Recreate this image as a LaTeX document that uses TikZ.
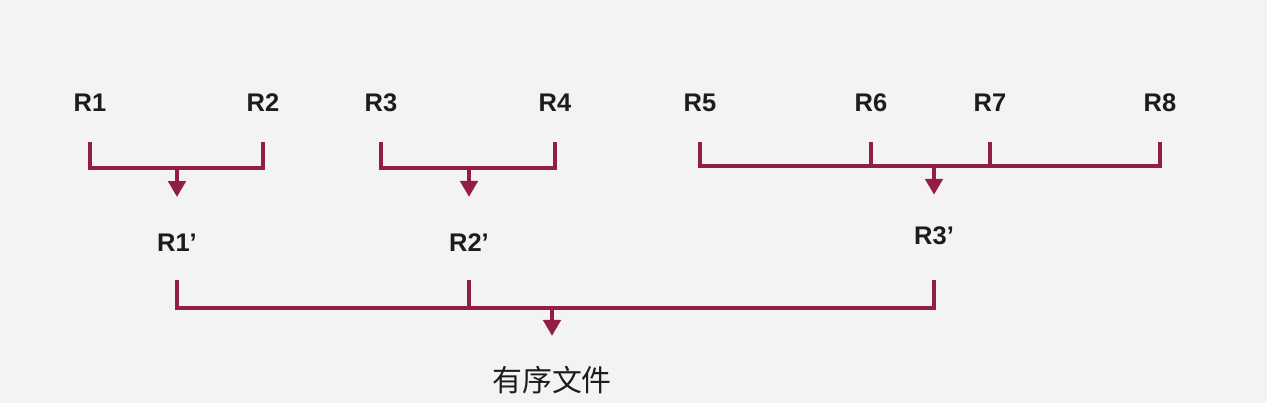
\documentclass[tikz,border=0pt]{standalone}
\usepackage{fontspec}
\setmainfont{Liberation Sans}
\newfontfamily\cjkfont{Noto Sans CJK SC}
\usetikzlibrary{arrows.meta}
\definecolor{bracket}{RGB}{146, 30, 72}
\definecolor{canvas}{RGB}{243, 243, 243}
\definecolor{ink}{RGB}{28, 28, 28}

\begin{document}
\begin{tikzpicture}[
    x=0.02cm, y=-0.02cm,
    run/.style={inner sep=0pt, text=ink, font=\fontsize{14.5}{16}\selectfont\bfseries},
    result/.style={inner sep=0pt, text=ink, font=\cjkfont\fontsize{17}{19}\selectfont},
    link/.style={draw=bracket, line width=1.8pt},
    arrow/.style={link, -{Triangle[width=10pt,length=9pt]}}
]
\fill[canvas] (0,0) rectangle (1267,403);
\useasboundingbox (0,0) rectangle (1267,403);

% Runs
\node[run] (r1) at (90,103) {R1};
\node[run] (r2) at (263,103) {R2};
\node[run] (r3) at (381,103) {R3};
\node[run] (r4) at (555,103) {R4};
\node[run] (r5) at (700,103) {R5};
\node[run] (r6) at (871,103) {R6};
\node[run] (r7) at (990,103) {R7};
\node[run] (r8) at (1160,103) {R8};

% First merge
\coordinate (j1) at (177,168);
\coordinate (j2) at (469,168);
\coordinate (j3) at (934,166);
\node[run] (r1p) at (177,243) {R1’};
\node[run] (r2p) at (469,243) {R2’};
\node[run] (r3p) at (934,236) {R3’};

\draw[link] ([yshift=-0.6cm]r1.south) |- (j1) -| ([yshift=-0.6cm]r2.south);
\draw[link] ([yshift=-0.6cm]r3.south) |- (j2) -| ([yshift=-0.6cm]r4.south);
\draw[link] ([yshift=-0.6cm]r5.south) |- (j3) -| ([yshift=-0.6cm]r8.south);
\draw[link] ([yshift=-0.6cm]r6.south) -- (r6 |- j3);
\draw[link] ([yshift=-0.6cm]r7.south) -- (r7 |- j3);

\draw[arrow, shorten >=0.74cm] (j1) -- (r1p);
\draw[arrow, shorten >=0.74cm] (j2) -- (r2p);
\draw[arrow, shorten >=0.64cm] (j3) -- (r3p);

% Second merge
\coordinate (j4) at (552,308);
\node[result] (out) at (552,380) {有序文件};

\draw[link] ([yshift=-0.56cm]r1p.south) |- (j4) -| ([yshift=-0.7cm]r3p.south);
\draw[link] ([yshift=-0.56cm]r2p.south) -- (r2p |- j4);
\draw[arrow, shorten >=0.6cm] (j4) -- (out);

\end{tikzpicture}
\end{document}
